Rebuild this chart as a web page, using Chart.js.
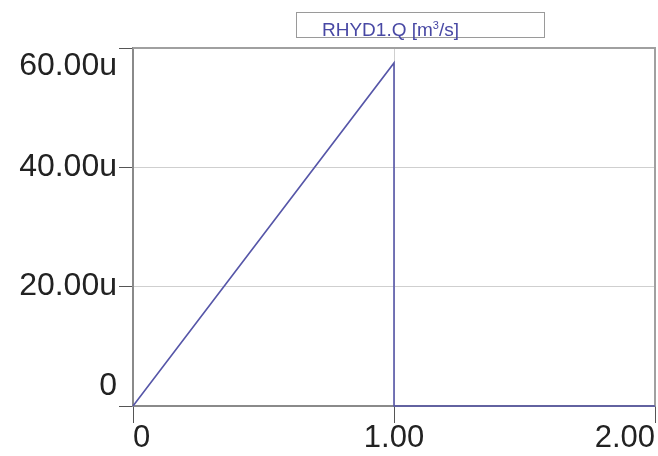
<!DOCTYPE html>
<html>
<head>
<meta charset="utf-8">
<script src="https://cdn.jsdelivr.net/npm/chart.js@4/dist/chart.umd.min.js"></script>
<style>
    body { margin: 0; background: #fff; }
    #wrap { position: relative; width: 658px; height: 456px; }
    #legendBox {
        position: absolute; left: 296px; top: 12px; width: 249px; height: 26px;
        border: 1px solid #9a9a9a; font: 19px "Liberation Sans", Arial, sans-serif;
        color: #4848a4; line-height: 24px; padding-left: 25px; box-sizing: border-box;
    }
    #legendBox sup { font-size: 11px; vertical-align: 7px; }
</style>
</head>
<body>
<div id="wrap">
    <canvas id="lineChart" width="658" height="456"></canvas>
    <div id="legendBox">RHYD1.Q [m<sup>3</sup>/s]</div>
</div>
<script>
// time axis and flow series
const timeValues = [0, 1.0, 1.0, 2.0];
const flowValues = [0, 57.5e-6, 0, 0];
const xTicks = [0, 1, 2];
const yTicks = [0, 20e-6, 40e-6, 60e-6];

function yLabel(v)
{
    return v === 0 ? '0' : (v * 1e6).toFixed(2) + 'u';
}

function xLabel(v)
{
    return v === 0 ? '0' : v.toFixed(2);
}

// y labels are pushed inside the axis range like the original tool does
const yLabelPlugin = {
    id: 'yLabels',
    beforeDatasetsDraw(chart)
    {
        const ctx = chart.ctx;
        const area = chart.chartArea;
        ctx.save();
        ctx.strokeStyle = '#a0a0a0';
        ctx.lineWidth = 2;
        ctx.beginPath();
        ctx.moveTo(area.left, area.top);
        ctx.lineTo(area.right, area.top);
        ctx.lineTo(area.right, area.bottom);
        ctx.stroke();
        ctx.restore();
    },
    afterDraw(chart)
    {
        const ctx = chart.ctx;
        const y = chart.scales.y;
        const area = chart.chartArea;
        ctx.save();
        ctx.font = '32px "Liberation Sans", Arial, sans-serif';
        ctx.fillStyle = '#222';
        ctx.textAlign = 'right';
        ctx.textBaseline = 'middle';
        yTicks.forEach(v =>
        {
            let py = y.getPixelForValue(v);
            py = Math.min(Math.max(py, area.top + 18), area.bottom - 20);
            ctx.fillText(yLabel(v), 117, py);
        });
        ctx.restore();
    }
};

const ctx = document.getElementById('lineChart').getContext('2d');

new Chart(ctx, {
    type: 'scatter',
    data: {
        datasets: [
            {
                label: 'RHYD1.Q [m³/s]',
                data: timeValues.map((t, i) => ({ x: t, y: flowValues[i] })),
                showLine: true,
                borderColor: '#5656a8',
                borderWidth: 1.6,
                pointRadius: 0,
                tension: 0,
                clip: false
            }
        ]
    },
    options: {
        responsive: false,
        animation: false,
        layout: { padding: { top: 48, right: 3, left: 0, bottom: 0 } },
        plugins: {
            legend: { display: false },
            tooltip: { enabled: false }
        },
        scales: {
            x: {
                type: 'linear',
                min: 0,
                max: 2,
                afterBuildTicks: s => { s.ticks = xTicks.map(v => ({ value: v })); },
                afterFit: s => { s.height = 50; },
                border: { color: '#8a8a8a', width: 2 },
                grid: { color: '#cfcfcf', tickColor: '#555', tickLength: 17, lineWidth: 1 },
                ticks: {
                    align: 'inner',
                    maxRotation: 0,
                    padding: -3,
                    color: '#222',
                    font: { family: '"Liberation Sans", Arial, sans-serif', size: 31 },
                    callback: v => xLabel(v)
                }
            },
            y: {
                type: 'linear',
                min: 0,
                max: 60e-6,
                afterBuildTicks: s => { s.ticks = yTicks.map(v => ({ value: v })); },
                afterFit: s => { s.width = 133; },
                border: { color: '#8a8a8a', width: 2 },
                grid: { color: '#cfcfcf', tickColor: '#555', tickLength: 14, lineWidth: 1 },
                ticks: { display: false }
            }
        }
    },
    plugins: [yLabelPlugin]
});
</script>
</body>
</html>
